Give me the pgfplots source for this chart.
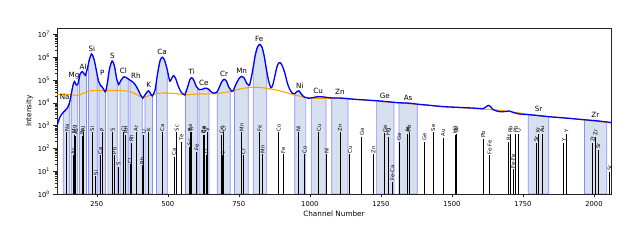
\documentclass[border=0pt]{standalone}
\usepackage{pgfplots}
\pgfplotsset{compat=1.18}
\usepackage{pgfplotstable}
\usepackage{fontspec}
\setmainfont{DejaVu Sans}
\definecolor{roifill}{RGB}{214,224,238}
\definecolor{roiedge}{RGB}{140,140,255}
\definecolor{bkg}{RGB}{255,165,0}

\pgfplotstableread{
ch y
110 955
121 2455
132 3802
140 4786
148 6310
155 11220
160 23440
162 31620
167 63100
172 85110
178 60260
183 63100
189 138000
191 177800
199 234400
205 190500
210 158500
214 234400
216 281800
221 537000
224 794300
232 1380000
240 831800
248 281800
252 158500
256 89130
258 79430
264 56230
270 47860
276 35480
281 30200
287 70790
289 100000
295 316200
304 676100
312 416900
320 112200
322 95500
327 63100
332 81280
336 100000
346 138000
355 125900
361 109600
367 97720
375 85110
385 63100
396 36310
405 20890
410 17380
412 15850
420 22390
432 33880
440 23990
446 19950
455 35480
460 89130
465 223900
473 707900
481 1000000
489 707900
498 281800
507 89130
513 112200
520 154900
528 112200
537 52480
548 28180
560 21880
562 25700
570 50120
578 104700
584 125900
591 100000
600 52480
605 44670
610 38020
620 38020
630 43650
637 43650
645 38020
655 28180
665 26300
674 30200
682 50120
690 83180
698 107200
706 89130
715 47860
720 38900
725 31620
730 33110
735 46770
740 66070
750 112200
760 144500
768 125900
778 70790
783 61660
788 60000
793 112200
801 380200
808 1259000
816 2818000
824 3631000
832 2630000
840 1000000
848 251200
855 89130
863 45710
870 63100
879 199500
887 478600
895 575400
903 416900
912 199500
920 79430
928 41690
938 26300
947 25120
955 31620
962 33110
970 23990
980 17780
986 17000
995 15850
1005 16220
1030 18620
1057 17380
1077 16220
1106 16220
1134 15140
1160 14130
1200 13180
1235 12300
1262 11480
1296 10470
1314 10000
1352 9550
1378 8710
1420 7762
1469 6761
1520 6310
1586 5754
1610 5495
1620 6607
1628 7762
1636 6918
1645 5012
1668 4074
1690 4169
1702 4365
1715 3802
1737 3236
1769 3020
1800 2780
1841 2455
1880 2240
1920 2040
1967 1799
2000 1660
2045 1445
2060 1349
}\spec

\pgfplotstableread{
ch y
110 23440
150 23440
180 20890
200 25120
226 33110
260 33880
300 34670
344 33880
370 30200
395 21380
412 16600
430 19950
460 25120
490 26920
530 25120
561 22390
600 23990
670 25120
720 31620
760 41690
800 47860
840 44670
895 33110
947 21880
1000 16220
1050 15850
1106 15490
1200 12880
1270 10960
1387 8318
1500 6457
1600 5370
1650 4898
1702 4169
1800 2754
1900 2138
2000 1585
2060 1318
}\bkg

\pgfplotstableread{
ch h lab
145 500 Na
168 50 Ar
172 400 Mg
176 350 As
199 350 Br
202 500 Al
234 500 Si
247 6 Si
262 50 Ca
269 500 P
306 500 S
312 50 Pb
326 15 S
345 500 Cl
352 400 Rh
367 20 Cl
372 170 Rh
388 500 Ar
410 18 Rh
416 400 U
433 500 K
480 500 Ca
522 43 Ca
531 500 Sc
548 200 Te
577 120 Sc
578 500 Ba
583 500 Ti
602 70 Fe
625 400 Ba
628 400 Ce
636 50 Ti
639 500 V
690 400 Ce
694 50 V
697 500 Cr
760 500 Mn
766 50 Cr
824 500 Fe
834 55 Mn
890 500 Co
906 55 Fe
960 500 Ni
982 55 Co
1032 500 Cu
1059 55 Ni
1106 500 Zn
1141 55 Cu
1183 320 Ga
1224 55 Zn
1264 450 Ge
1277 330 Hg
1291 3.5 Fe-Ca
1314 195 Ga
1344 430 As
1349 500 Pb
1403 195 Ge
1434 500 Se
1469 290 Au
1512 400 Hg
1516 430 Br
1610 260 Pb
1633 50 Fe-Fe
1700 195 Br
1706 430 Rb
1716 12 Fe-Fe
1724 430 Pb
1735 430 U
1797 170 Sr
1803 430 Kr
1818 430 Au
1894 170 Y
1903 430 Y
1996 170 Zr
2005 330 Zr
2015 85 Sr
2055 9.5 Sr
}\stems

\pgfplotstableread{
ch y lab
137 17380 Na
170 151400 Mg
202 363100 Al
233 2239000 Si
269 208900 P
305 1122000 S
344 245500 Cl
388 158500 Rh
433 58880 K
480 1622000 Ca
584 218800 Ti
627 75860 Ce
698 182000 Cr
760 245500 Mn
822 6310000 Fe
965 56230 Ni
1029 33880 Cu
1106 30900 Zn
1264 19950 Ge
1346 16600 As
1805 5370 Sr
2005 2884 Zr
}\peaks

\begin{document}
\begin{tikzpicture}
\begin{axis}[
  scale only axis, width=554bp, height=166bp,
  ymode=log, xmin=110, xmax=2060, ymin=1, ymax=1.9e7,
  xtick={250,500,750,1000,1250,1500,1750,2000},
  ytick={1,10,100,1000,10000,100000,1000000,10000000},
  yticklabels={10\textsuperscript{0},10\textsuperscript{1},10\textsuperscript{2},10\textsuperscript{3},10\textsuperscript{4},10\textsuperscript{5},10\textsuperscript{6},10\textsuperscript{7}},
  tick align=outside, major tick length=3.5bp, minor tick length=2bp,
  xtick pos=bottom, ytick pos=left,
  x tick label style={/pgf/number format/assume math mode=true,/pgf/number format/1000 sep={}},
  tick label style={font=\fontsize{6.8}{8}\selectfont},
  label style={font=\fontsize{7.3}{9}\selectfont},
  xlabel={Channel Number}, ylabel={Intensity},
  xlabel style={yshift=2bp}, ylabel style={yshift=-2bp},
  axis line style={black!85, line width=0.6bp},
  every tick/.style={black!85, line width=0.5bp},
  clip=true,
  roi/.style={fill=roifill, draw=roiedge, line width=0.7bp, smooth, mark=none},
]
\addplot[roi] table[x=ch,y=y,restrict x to domain=132:155] {\spec} \closedcycle;
\addplot[roi] table[x=ch,y=y,restrict x to domain=160:183] {\spec} \closedcycle;
\addplot[roi] table[x=ch,y=y,restrict x to domain=189:214] {\spec} \closedcycle;
\addplot[roi] table[x=ch,y=y,restrict x to domain=221:252] {\spec} \closedcycle;
\addplot[roi] table[x=ch,y=y,restrict x to domain=258:281] {\spec} \closedcycle;
\addplot[roi] table[x=ch,y=y,restrict x to domain=289:322] {\spec} \closedcycle;
\addplot[roi] table[x=ch,y=y,restrict x to domain=332:361] {\spec} \closedcycle;
\addplot[roi] table[x=ch,y=y,restrict x to domain=367:410] {\spec} \closedcycle;
\addplot[roi] table[x=ch,y=y,restrict x to domain=420:446] {\spec} \closedcycle;
\addplot[roi] table[x=ch,y=y,restrict x to domain=460:498] {\spec} \closedcycle;
\addplot[roi] table[x=ch,y=y,restrict x to domain=562:605] {\spec} \closedcycle;
\addplot[roi] table[x=ch,y=y,restrict x to domain=610:645] {\spec} \closedcycle;
\addplot[roi] table[x=ch,y=y,restrict x to domain=674:720] {\spec} \closedcycle;
\addplot[roi] table[x=ch,y=y,restrict x to domain=735:783] {\spec} \closedcycle;
\addplot[roi] table[x=ch,y=y,restrict x to domain=801:848] {\spec} \closedcycle;
\addplot[roi] table[x=ch,y=y,restrict x to domain=947:986] {\spec} \closedcycle;
\addplot[roi] table[x=ch,y=y,restrict x to domain=1005:1057] {\spec} \closedcycle;
\addplot[roi] table[x=ch,y=y,restrict x to domain=1077:1134] {\spec} \closedcycle;
\addplot[roi] table[x=ch,y=y,restrict x to domain=1235:1296] {\spec} \closedcycle;
\addplot[roi] table[x=ch,y=y,restrict x to domain=1314:1378] {\spec} \closedcycle;
\addplot[roi] table[x=ch,y=y,restrict x to domain=1769:1841] {\spec} \closedcycle;
\addplot[roi] table[x=ch,y=y,restrict x to domain=1967:2045] {\spec} \closedcycle;
\addplot[bkg, line width=1.1bp, smooth, mark=none] table[x=ch,y=y] {\bkg};
\addplot[blue, line width=1.3bp, smooth, mark=none] table[x=ch,y=y] {\spec};
\addplot[ycomb, black, line width=0.9bp, mark=none,
  nodes near coords, point meta=explicit symbolic,
  every node near coord/.append style={rotate=90, anchor=west, inner sep=0.8pt, font=\fontsize{5.3}{6}\selectfont, black}]
  table[x=ch,y=h,meta=lab] {\stems};
\addplot[draw=none, mark=none,
  nodes near coords, point meta=explicit symbolic,
  every node near coord/.append style={anchor=center, inner sep=0pt, font=\fontsize{7.2}{8}\selectfont, black}]
  table[x=ch,y=y,meta=lab] {\peaks};
\end{axis}
\pgfresetboundingbox
\path (-57bp,-51bp) rectangle (582bp,194bp);
\end{tikzpicture}
\end{document}
